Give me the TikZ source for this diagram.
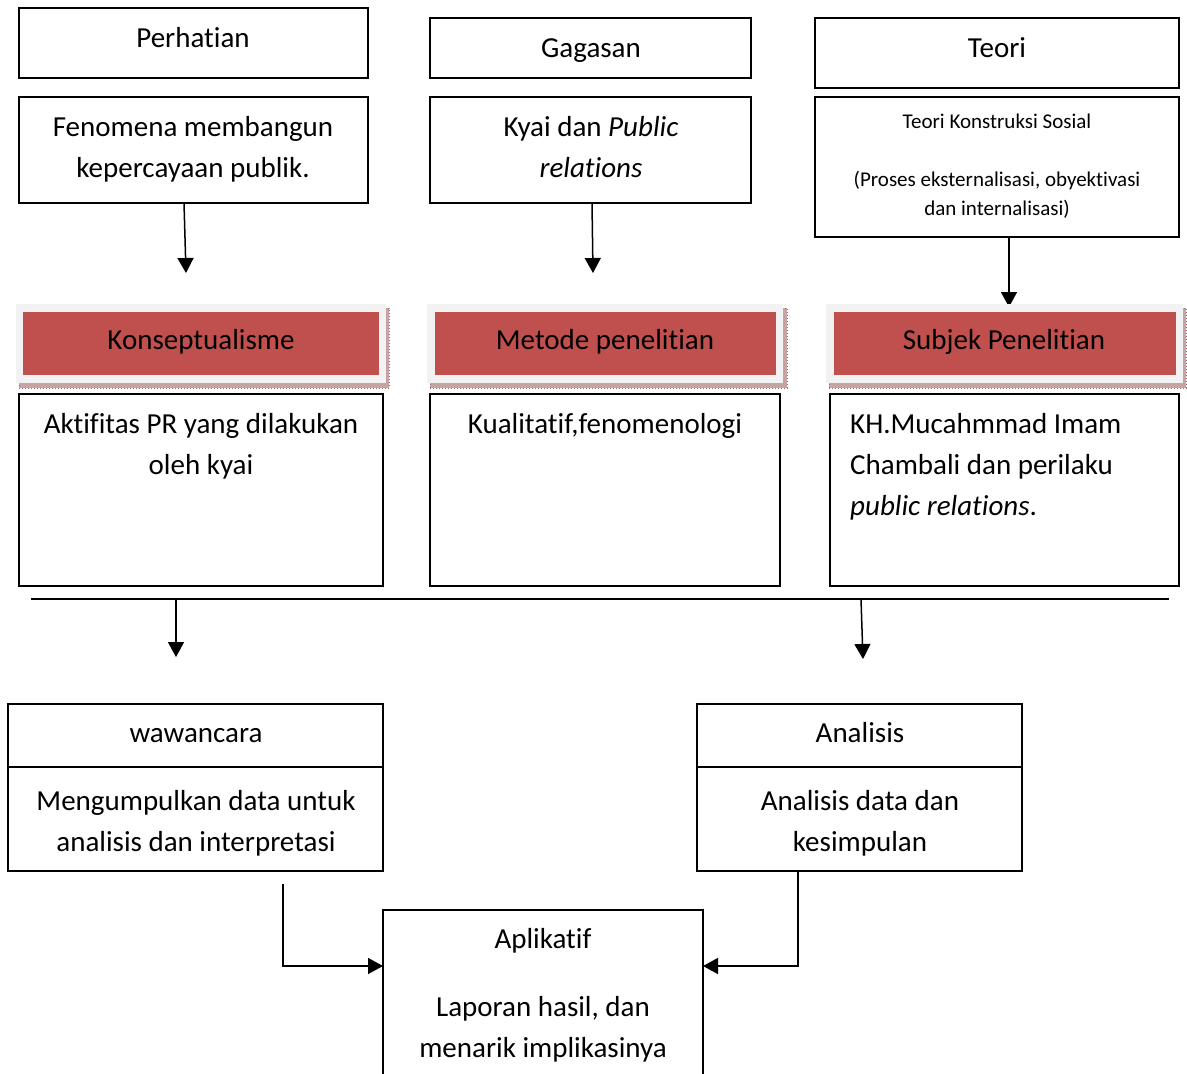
\documentclass[tikz,border=0pt]{standalone}
\usepackage{fontspec}
\setmainfont{Carlito}[Ligatures={NoCommon,NoContextual,NoRare}, Contextuals={NoAlternate}]
\usetikzlibrary{arrows.meta,fit}
\definecolor{hdrred}{HTML}{C0504D}
\definecolor{hdrgray}{HTML}{F2F2F2}
\definecolor{shad}{HTML}{C6A4A4}
\definecolor{shaddark}{HTML}{9A6A6A}
\begin{document}
\begin{tikzpicture}[x=1pt,y=-1pt,
  box/.style={draw, line width=1.6pt, inner sep=0pt, outer sep=0pt},
  txt/.style={anchor=base, inner sep=0pt, font=\fontsize{29}{41}\selectfont},
  txtl/.style={anchor=base west, inner sep=0pt, font=\fontsize{29}{41}\selectfont},
  small/.style={anchor=base, inner sep=0pt, font=\fontsize{21}{29}\selectfont},
  arr/.style={line width=1.5pt, -{Triangle[width=16pt,length=15pt]}},
  shadowbox/.style={fill=shad, draw=shaddark, line width=0.4pt, dash pattern=on 1pt off 2pt, inner sep=0pt, outer sep=0pt},
  graybox/.style={fill=hdrgray, draw=none, inner sep=0pt, outer sep=0pt},
  redbox/.style={fill=hdrred, draw=none, inner sep=0pt, outer sep=0pt},
  hline/.style={line width=1.5pt}]
\useasboundingbox (0,0) rectangle (1187,1074);

% ---- Row 1
\node[box, fit={(19,8) (368,78)}] (perhatian) {};
\node[txt] (tperhatian) at (193,47) {Perhatian};
\node[box, fit={(430,18) (751,78)}] (gagasan) {};
\node[txt] (tgagasan) at (591,57) {Gagasan};
\node[box, fit={(815,18) (1179,88)}] (teori) {};
\node[txt] (tteori) at (997,57) {Teori};

% ---- Row 2
\node[box, fit={(19,97) (368,203)}] (fenomena) {};
\node[txt] (tfen1) at (193,136) {Fenomena membangun};
\node[txt] (tfen2) at (193,177) {kepercayaan publik.};
\node[box, fit={(430,97) (751,203)}] (kyai) {};
\node[txt] (tkyai1) at (591,136) {Kyai dan \textit{Public}};
\node[txt] (tkyai2) at (591,177) {\textit{relations}};
\node[box, fit={(815,97) (1179,237)}] (teorik) {};
\node[small] (tteorik1) at (997,128) {Teori Konstruksi Sosial};
\node[small] (tteorik2) at (997,186) {(Proses eksternalisasi, obyektivasi};
\node[small] (tteorik3) at (997,215) {dan internalisasi)};

% ---- arrows row 2 -> headers
\coordinate (a1) at (184,203); \coordinate (a1e) at (186,273);
\coordinate (a2) at (592,203); \coordinate (a2e) at (593,273);
\coordinate (a3) at (1009,237); \coordinate (a3e) at (1009,307);
\draw[arr] (fenomena.south -| a1) -- (a1e);
\draw[arr] (kyai.south -| a2) -- (a2e);
\draw[arr] (teorik.south -| a3) -- (a3e);

% ---- Header boxes
\node[shadowbox, fit={(19,308) (389,388)}] (sh1) {};
\node[graybox, fit={(16,304) (386,383)}] (g1) {};
\node[redbox, fit={(23,312) (379,375)}] (konsep) {};
\node[txt] (tkonsep) at (201,349) {Konseptualisme};

\node[shadowbox, fit={(430,308) (787,388)}] (sh2) {};
\node[graybox, fit={(427,304) (783,383)}] (g2) {};
\node[redbox, fit={(435,312) (776,375)}] (metode) {};
\node[txt] (tmetode) at (605,349) {Metode penelitian};

\node[shadowbox, fit={(829,308) (1186,388)}] (sh3) {};
\node[graybox, fit={(826,304) (1183,383)}] (g3) {};
\node[redbox, fit={(834,312) (1176,375)}] (subjek) {};
\node[txt] (tsubjek) at (1004,349) {Subjek Penelitian};

% ---- Row 3
\node[box, fit={(19,394) (383,586)}] (aktif) {};
\node[txt] (taktif1) at (201,433) {Aktifitas PR yang dilakukan};
\node[txt] (taktif2) at (201,474) {oleh kyai};
\node[box, fit={(430,394) (780,586)}] (kual) {};
\node[txt] (tkual) at (605,433) {Kualitatif,fenomenologi};
\node[box, fit={(830,394) (1179,586)}] (kh) {};
\node[txtl] (tkh1) at (850,433) {KH.Mucahmmad Imam};
\node[txtl] (tkh2) at (850,474) {Chambali dan perilaku};
\node[txtl] (tkh3) at (850,515) {\textit{public relations}.};

% ---- horizontal line and arrows
\coordinate (hl) at (31,599); \coordinate (hr) at (1169,599);
\draw[hline] (hl) -- (hr);
\coordinate (b1) at (176,599); \coordinate (b1e) at (176,657);
\coordinate (b2) at (861,599); \coordinate (b2e) at (863,659);
\draw[arr] (b1) -- (b1e);
\draw[arr] (b2) -- (b2e);

% ---- Row 4
\node[box, fit={(8,704) (383,871)}] (wawan) {};
\coordinate (wd) at (8,767);
\draw[hline] (wd) -- (wd -| wawan.east);
\node[txt] (twawan) at (196,742) {wawancara};
\node[txt] (twawan1) at (196,810) {Mengumpulkan data untuk};
\node[txt] (twawan2) at (196,851) {analisis dan interpretasi};

\node[box, fit={(697,704) (1022,871)}] (anal) {};
\coordinate (ad) at (697,767);
\draw[hline] (ad) -- (ad -| anal.east);
\node[txt] (tanal) at (860,742) {Analisis};
\node[txt] (tanal1) at (860,810) {Analisis data dan};
\node[txt] (tanal2) at (860,851) {kesimpulan};

% ---- Aplikatif
\node[box, fit={(383,910) (703,1090)}] (aplik) {};
\node[txt] (taplik) at (543,948) {Aplikatif};
\node[txt] (taplik1) at (543,1016) {Laporan hasil, dan};
\node[txt] (taplik2) at (543,1057) {menarik implikasinya};

\coordinate (ws) at (283,884);
\coordinate (ain) at (383,966);
\coordinate (aout) at (798,871);
\draw[arr] (ws) |- (aplik.west |- ain);
\draw[arr] (anal.south -| aout) |- (aplik.east |- ain);
\end{tikzpicture}
\end{document}
